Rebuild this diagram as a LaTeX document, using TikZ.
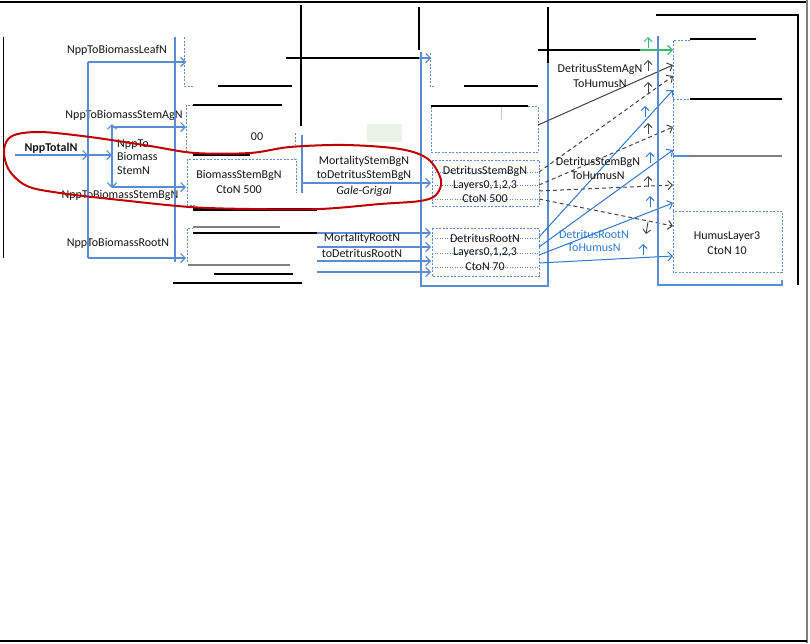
\documentclass[tikz,border=0pt]{standalone}
\usepackage{fontspec}
\setmainfont{Carlito}
\usetikzlibrary{arrows.meta}
\definecolor{ablue}{HTML}{5B8BD0}
\definecolor{bblue}{HTML}{2F78D0}
\definecolor{dred}{HTML}{C00000}
\definecolor{dgray}{HTML}{454545}
\definecolor{agreen}{HTML}{3DB873}
\definecolor{lgreen}{HTML}{EAF3E6}
\definecolor{tickgreen}{HTML}{B9D9AC}
\definecolor{txt}{HTML}{141414}
\tikzset{
  lbl/.style={inner sep=0pt, font=\fontsize{12}{13.5}\selectfont, text=txt},
  bluelbl/.style={lbl, text=bblue},
  tip/.style={-{Straight Barb[length=4.5pt,width=9pt]}},
  bline/.style={draw=ablue, line width=1.2pt},
  flow/.style={bline, tip},
  dbox/.style={draw=ablue, line width=0.8pt, dash pattern=on 2pt off 1.5pt},
  dots/.style={draw=ablue!80!gray, line width=0.7pt, dash pattern=on 1pt off 1.5pt},
  kline/.style={draw=black, line width=1.2pt},
  heavy/.style={draw=black, line width=3pt},
  glineS/.style={draw=gray, line width=1.2pt},
  solidflow/.style={draw=dgray, line width=1pt, tip},
  dashflow/.style={draw=dgray, line width=1pt, dash pattern=on 4pt off 3pt, tip},
  humflow/.style={draw=bblue, line width=1pt, tip},
  stray/.style={line width=0.9pt, -{Straight Barb[length=4pt,width=8pt]}},
}
\begin{document}
\begin{tikzpicture}[x=1pt,y=-1pt]
\useasboundingbox (0,0) rectangle (810,643);

% page frame
\draw[black, line width=1.2pt] (0,2) -- (807,2);
\draw[gray, line width=1.5pt] (807,0) -- (807,643);
\draw[black, line width=1.2pt] (0,641) -- (807,641);
\draw[black, line width=1pt] (3,37) -- (3,258);

% ---------- NPP distribution ----------
\coordinate (src) at (15,155);
\coordinate (j1) at (88,155);
\coordinate (j2) at (112,155);
\coordinate (bt) at (88,62);
\coordinate (bb) at (88,258);
\coordinate (st) at (112,124);
\coordinate (sb) at (112,188);
\coordinate (sat) at (112,127);
\coordinate (sab) at (112,187);
\coordinate (leafIn) at (186,62);
\coordinate (rootIn) at (186,258);
\coordinate (agIn) at (186,127);
\coordinate (bgIn) at (186,187);

\node[lbl] (tleaf) at (117,50) {NppToBiomassLeafN};
\node[lbl] (tstemag) at (124,115) {NppToBiomassStemAgN};
\node[lbl, font=\fontsize{12}{13.5}\selectfont\bfseries] (ttotal) at (51,148) {NppTotalN};
\node[lbl, align=left, anchor=west] (tstem) at (117,157) {NppTo\\Biomass\\StemN};
\node[lbl] (tstembg) at (120,195) {NppToBiomassStemBgN};
\node[lbl] (troot) at (118,243) {NppToBiomassRootN};

\draw[flow] (src) -- (j1);
\draw[flow] (j1) -- (j2);
\draw[bline] (bt) -- (bb);
\draw[flow] (bt) -- (leafIn);
\draw[flow] (bb) -- (rootIn);
\draw[bline, {Straight Barb[length=4.5pt,width=9pt]}-{Straight Barb[length=4.5pt,width=9pt]}] (st) -- (sb);
\draw[flow] (sat) -- (agIn);
\draw[flow] (sab) -- (bgIn);

% ---------- biomass column ----------
\draw[bline] (175,37) -- (175,262);
\draw[dbox] (184,37) -- (184,86) -- (194,86);
\draw[kline] (218,86) -- (292,86);
\draw[dbox] (186,152) -- (186,105) -- (193,105);
\draw[kline] (193,105) -- (282,105);
\draw[dbox] (295,133) -- (295,145);
\node[lbl] (t00) at (257,137) {00};
\draw[heavy] (193,154) -- (250,154);

\draw[dbox] (195,205) -- (187,205) -- (187,159) -- (296,159) -- (296,193);
\node[lbl] (bsb1) at (239,175) {BiomassStemBgN};
\node[lbl] (bsb2) at (239,190) {CtoN 500};
\draw[heavy] (193,209) -- (317,209);

\draw[dbox] (187,262) -- (187,228) -- (193,228);
\draw[glineS] (193,227) -- (280,227);
\draw[black, line width=2.5pt] (193,233) -- (317,233);
\draw[glineS] (188,265) -- (290,265);
\draw[kline] (214,274) -- (293,274);
\draw[kline] (173,283) -- (302,283);

% ---------- mortality transfers ----------
\draw[kline] (301,5) -- (301,126);
\draw[black, line width=1.5pt] (286,58) -- (419,58);
\coordinate (lk0) at (419,58);
\coordinate (lk1) at (431,58);
\draw[flow] (lk0) -- (lk1);
\draw[kline] (419,7) -- (419,50);
\fill[lgreen] (367,124) rectangle (402,142);

\coordinate (mS0) at (302,183);
\coordinate (mS1) at (431,183);
\draw[bline] (302,135) -- (302,193);
\draw[flow] (mS0) -- (mS1);
\node[lbl] (ms1) at (364,161) {MortalityStemBgN};
\node[lbl] (ms2) at (364,175) {toDetritusStemBgN};
\node[lbl, font=\fontsize{12}{13.5}\selectfont\itshape] (ms3) at (364,191) {Gale-Grigal};

\foreach \y [count=\i] in {233,247,261,272}{
  \coordinate (mr\i a) at (317,\y);
  \coordinate (mr\i b) at (431,\y);
  \draw[flow] (mr\i a) -- (mr\i b);
}
\node[lbl] (mr1) at (362,238) {MortalityRootN};
\node[lbl] (mr2) at (362,253) {toDetritusRootN};

% ---------- detritus column ----------
\draw[bline] (421,52) -- (421,286) -- (548,286) -- (548,63);
\draw[kline] (548,7) -- (548,63);
\draw[dbox] (430,53) -- (430,86) -- (434,86);
\draw[kline] (464,86) -- (538,86);
\draw[kline] (431,106) -- (528,106);
\draw[dbox] (528,106) -- (538,106) -- (538,152) -- (431,152) -- (431,106);
\draw[tickgreen, line width=1pt] (501,107) -- (501,120);

\draw[dbox] (432,160) rectangle (539,206);
\foreach \y in {172,185,199} \draw[dots] (432,\y) -- (539,\y);
\node[lbl] (dsb1) at (485,171) {DetritusStemBgN};
\node[lbl] (dsb2) at (485,186) {Layers0,1,2,3};
\node[lbl] (dsb3) at (485,199) {CtoN 500};

\draw[dbox] (432,228) rectangle (539,276);
\foreach \y in {238,253,267} \draw[dots] (432,\y) -- (539,\y);
\node[lbl] (dr1) at (485,238) {DetritusRootN};
\node[lbl] (dr2) at (485,253) {Layers0,1,2,3};
\node[lbl] (dr3) at (485,267) {CtoN 70};

% ---------- humification ----------
\draw[black, line width=1.5pt] (538,50) -- (640,50);
\coordinate (g0) at (640,50);
\coordinate (g1) at (673,50);
\draw[agreen, line width=1.2pt, tip] (g0) -- (g1);

\coordinate (ha0) at (538,125);  \coordinate (ha1) at (673,65);
\coordinate (hb0) at (539,172);  \coordinate (hb1) at (673,76);
\coordinate (hc0) at (539,185);  \coordinate (hc1) at (673,127);
\coordinate (hd0) at (539,191);  \coordinate (hd1) at (673,185);
\coordinate (he0) at (539,199);  \coordinate (he1) at (673,226);
\coordinate (hf0) at (539,237);  \coordinate (hf1) at (673,90);
\coordinate (hg0) at (539,247);  \coordinate (hg1) at (673,150);
\coordinate (hh0) at (539,255);  \coordinate (hh1) at (673,203);
\coordinate (hi0) at (539,263);  \coordinate (hi1) at (673,256);
\draw[solidflow] (ha0) -- (ha1);
\draw[dashflow] (hb0) -- (hb1);
\draw[dashflow] (hc0) -- (hc1);
\draw[dashflow] (hd0) -- (hd1);
\draw[dashflow] (he0) -- (he1);
\draw[humflow] (hf0) -- (hf1);
\draw[humflow] (hg0) -- (hg1);
\draw[humflow] (hh0) -- (hh1);
\draw[humflow] (hi0) -- (hi1);

\node[lbl] (hs1) at (600,69) {DetritusStemAgN};
\node[lbl] (hs2) at (600,84) {ToHumusN};
\node[lbl] (hb1t) at (598,162) {DetritusStemBgN};
\node[lbl] (hb2t) at (598,176) {ToHumusN};
\node[bluelbl] (hr1) at (594,234) {DetritusRootN};
\node[bluelbl] (hr2) at (594,248) {ToHumusN};

% small upward tips along the humus inflows
\draw[stray, agreen] (648,48) -- (648,37);
\draw[stray, dgray] (648,71) -- (648,60);
\draw[stray, dgray] (648,93) -- (648,82);
\draw[stray, bblue] (645,117) -- (645,106);
\draw[stray, dgray] (648,134) -- (648,123);
\draw[stray, bblue] (650,163) -- (650,152);
\draw[stray, dgray] (648,187) -- (648,176);
\draw[stray, bblue] (650,207) -- (650,196);
\draw[stray, dgray] (648,222) -- (646,234);
\draw[stray, bblue] (643,255) -- (643,244);

% ---------- humus column ----------
\draw[bline] (658,36) -- (658,285) -- (782,285) -- (782,280);
\draw[dbox] (690,40) -- (673,40) -- (673,211);
\draw[kline] (690,39) -- (756,39);
\draw[dbox] (673,99) -- (690,99);
\draw[kline] (690,99) -- (782,99);
\draw[bline] (673,156) -- (690,156);
\draw[glineS] (690,156) -- (782,156);
\draw[dbox] (673,211) rectangle (782,272);
\node[lbl] (hl1) at (727,237) {HumusLayer3};
\node[lbl] (hl2) at (727,251) {CtoN 10};
\draw[kline] (656,15) -- (798,15) -- (798,285);

% ---------- highlighted stem pathway ----------
\draw[dred, line width=2pt] plot[smooth cycle, tension=0.55] coordinates {
  (4,150) (12,136) (40,132) (90,137) (150,146) (195,153) (250,153)
  (290,147) (345,145) (400,149) (428,159) (441,180) (436,195)
  (420,201) (380,204) (320,209) (250,209) (190,207) (120,200)
  (60,193) (27,186) (9,170)};
\end{tikzpicture}
\end{document}
